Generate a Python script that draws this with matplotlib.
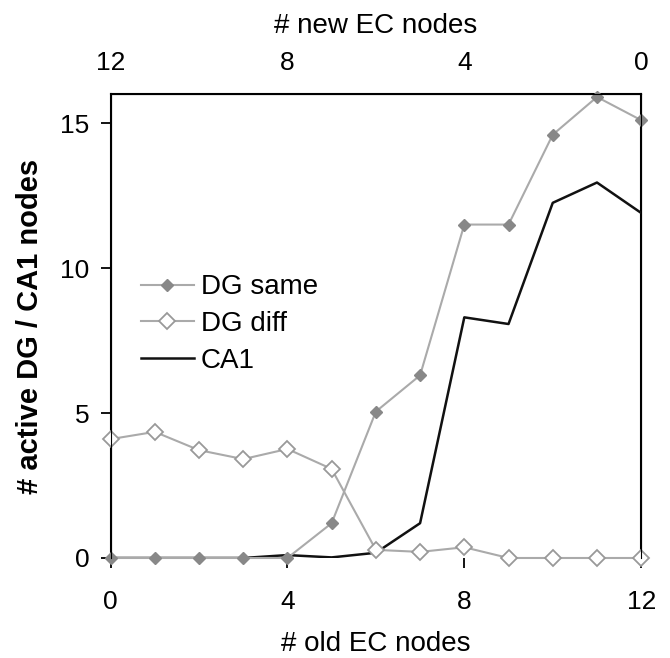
import matplotlib.pyplot as plt
import numpy as np

plt.rcParams['font.family'] = ['Liberation Sans', 'DejaVu Sans']

old_ec = [0, 1, 2, 3, 4, 5, 6, 7, 8, 9, 10, 11, 12]
dg_same = [0, 0, 0, 0, 0, 1.2, 5.05, 6.3, 11.5, 11.5, 14.6, 15.9, 15.1]
dg_diff = [4.1, 4.35, 3.72, 3.41, 3.76, 3.07, 0.28, 0.21, 0.37, 0, 0, 0, 0]
ca1 = [0, 0, 0, 0, 0.1, 0.02, 0.18, 1.2, 8.3, 8.07, 12.25, 12.95, 11.9]

fig = plt.figure(figsize=(6.7, 6.58), dpi=100)
ax = fig.add_axes([0.165, 0.152, 0.792, 0.705])

ax.plot(old_ec, ca1, color='#111111', lw=1.8, label='CA1', zorder=3)
ax.plot(old_ec, dg_diff, color='#aaaaaa', lw=1.5, marker='D', ms=8,
        mfc='white', mec='#999999', mew=1.3, label='DG diff', zorder=4, clip_on=False)
ax.plot(old_ec, dg_same, color='#aaaaaa', lw=1.5, marker='D', ms=6,
        mfc='#888888', mec='#888888', label='DG same', zorder=5, clip_on=False)

ax.set_xlim(0, 12)
ax.set_ylim(0, 16)
ax.set_xticks([0, 4, 8, 12])
ax.set_yticks([0, 5, 10, 15])
ax.spines['bottom'].set_visible(False)
for s in ['top', 'left', 'right']:
    ax.spines[s].set_linewidth(1.5)
ax.tick_params(axis='both', direction='out', length=7, width=1.3, labelsize=19)
ax.tick_params(axis='x', pad=16)
ax.tick_params(axis='y', pad=8)

ax.set_xlabel('# old EC nodes', fontsize=20, labelpad=12)
ax.set_ylabel('# active DG / CA1 nodes', fontsize=21, fontweight='bold', labelpad=12)

top = ax.twiny()
top.set_xlim(12, 0)
top.set_xticks([12, 8, 4, 0])
top.tick_params(axis='x', length=0, labelsize=19, pad=14)
top.spines['bottom'].set_visible(False)
top.set_xlabel('# new EC nodes', fontsize=20, labelpad=13)

h, l = ax.get_legend_handles_labels()
order = [2, 1, 0]
ax.legend([h[i] for i in order], [l[i] for i in order], loc='upper left',
          bbox_to_anchor=(0.01, 0.665), frameon=False, fontsize=20,
          handlelength=1.9, handletextpad=0.25, labelspacing=0.38)

fig.savefig('out.png', dpi=100)
